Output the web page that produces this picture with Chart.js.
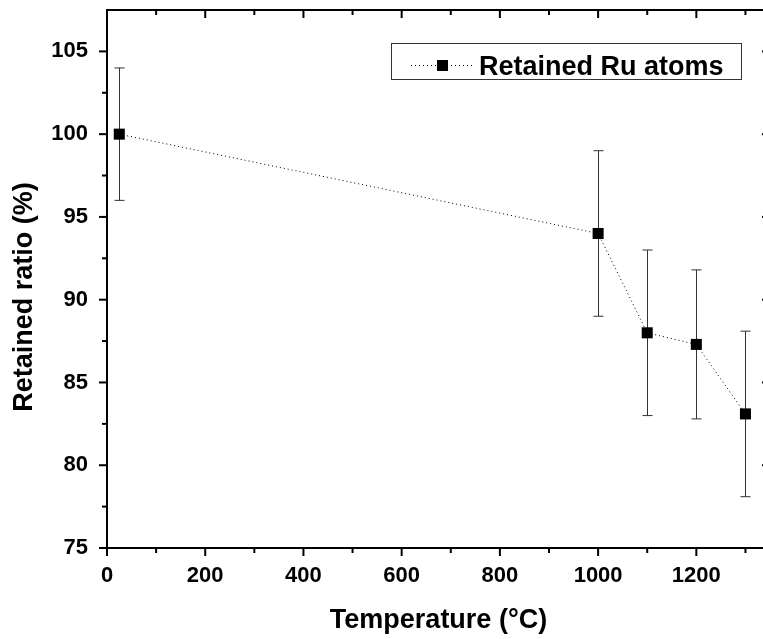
<!DOCTYPE html>
<html>
<head>
<meta charset="utf-8">
<script src="https://cdn.jsdelivr.net/npm/chart.js@4/dist/chart.umd.min.js"></script>
<style>
  html, body { margin: 0; padding: 0; background: #fff; overflow: hidden; }
  #wrap { width: 763px; height: 639px; overflow: hidden; }
</style>
</head>
<body>
<div id="wrap"><canvas id="chart" width="780" height="639"></canvas></div>
<script>
// data
const temperatures = [25, 1000, 1100, 1200, 1300];
const retained = [100, 94, 88, 87.3, 83.1];
const errors = [4, 5, 5, 4.5, 5];

const xTicks = [0, 200, 400, 600, 800, 1000, 1200];
const xMinor = [100, 300, 500, 700, 900, 1100, 1300];
const yTicks = [75, 80, 85, 90, 95, 100, 105];
const yMinor = [77.5, 82.5, 87.5, 92.5, 97.5, 102.5];

const seriesLabel = 'Retained Ru atoms';
const xTitle = 'Temperature (\u00B0C)';
const yTitle = 'Retained ratio (%)';

const FONT = "'Liberation Sans', Arial, sans-serif";
Chart.defaults.font.family = FONT;
Chart.defaults.color = '#000';

function line(ctx, x1, y1, x2, y2) {
  ctx.beginPath();
  ctx.moveTo(x1, y1);
  ctx.lineTo(x2, y2);
  ctx.stroke();
}

const frame = {
  id: 'frame',
  beforeDatasetsDraw(chart) {
    // error bars
    const { ctx, scales: { x, y } } = chart;
    ctx.save();
    ctx.strokeStyle = '#333';
    ctx.lineWidth = 1;
    temperatures.forEach((t, i) => {
      const px = Math.round(x.getPixelForValue(t)) + 0.5;
      const top = y.getPixelForValue(retained[i] + errors[i]);
      const bot = y.getPixelForValue(retained[i] - errors[i]);
      line(ctx, px, top, px, bot);
      line(ctx, px - 5, top, px + 5, top);
      line(ctx, px - 5, bot, px + 5, bot);
    });
    ctx.restore();
  },
  afterDraw(chart) {
    const { ctx, chartArea: a, scales: { x, y } } = chart;
    ctx.save();
    ctx.strokeStyle = '#000';
    ctx.lineWidth = 2;

    // frame on top and right
    line(ctx, a.left - 1, a.top, a.right, a.top);
    line(ctx, a.right, a.top, a.right, a.bottom);

    const tickX = (v, len) => {
      const px = x.getPixelForValue(v);
      line(ctx, px, a.bottom, px, a.bottom + len);
      line(ctx, px, a.top, px, a.top + len);
    };
    const tickY = (v, len) => {
      const py = y.getPixelForValue(v);
      line(ctx, a.left - len, py, a.left, py);
      line(ctx, a.right - len, py, a.right, py);
    };
    xTicks.forEach(v => tickX(v, 8));
    xMinor.forEach(v => tickX(v, 5));
    yTicks.forEach(v => tickY(v, 8));
    yMinor.forEach(v => tickY(v, 5));

    // legend
    ctx.lineWidth = 1;
    ctx.strokeStyle = '#333';
    ctx.strokeRect(391.5, 43.5, 350, 36);
    ctx.strokeStyle = '#000';
    ctx.setLineDash([1, 3]);
    line(ctx, 411, 65.5, 474, 65.5);
    ctx.setLineDash([]);
    ctx.fillStyle = '#000';
    ctx.fillRect(437, 60, 11, 11);
    ctx.font = 'bold 27px ' + FONT;
    ctx.textAlign = 'left';
    ctx.textBaseline = 'alphabetic';
    ctx.fillText(seriesLabel, 479, 75);

    // axis titles
    ctx.textAlign = 'center';
    ctx.fillText(xTitle, (a.left + a.right) / 2, 628);
    ctx.translate(32, 297);
    ctx.rotate(-Math.PI / 2);
    ctx.fillText(yTitle, 0, 0);
    ctx.restore();
  }
};

new Chart(document.getElementById('chart'), {
  type: 'line',
  data: {
    datasets: [{
      label: seriesLabel,
      data: temperatures.map((t, i) => ({ x: t, y: retained[i] })),
      borderColor: '#000',
      borderWidth: 1,
      borderDash: [1, 3],
      backgroundColor: '#000',
      pointStyle: 'rect',
      pointRadius: 7.8,
      pointBorderWidth: 0,
      pointBackgroundColor: '#000',
      tension: 0
    }]
  },
  options: {
    responsive: false,
    animation: false,
    devicePixelRatio: 1,
    layout: { padding: { top: 10, right: 10, left: 0, bottom: 0 } },
    plugins: { legend: { display: false }, tooltip: { enabled: false } },
    scales: {
      x: {
        type: 'linear',
        min: 0,
        max: 1350,
        afterBuildTicks: s => { s.ticks = xTicks.map(v => ({ value: v })); },
        afterFit: s => { s.height = 91; s.paddingLeft = 0; s.paddingRight = 0; },
        grid: { display: false, drawTicks: false },
        border: { display: true, color: '#000', width: 2 },
        ticks: { padding: 15, maxRotation: 0, callback: v => String(v), font: { size: 22, weight: 'bold' }, color: '#000' }
      },
      y: {
        type: 'linear',
        min: 75,
        max: 107.5,
        afterBuildTicks: s => { s.ticks = yTicks.map(v => ({ value: v })); },
        afterFit: s => { s.width = 107; s.paddingTop = 0; s.paddingBottom = 0; },
        grid: { display: false, drawTicks: false },
        border: { display: true, color: '#000', width: 2 },
        ticks: { padding: 19, callback: v => String(v), font: { size: 22, weight: 'bold' }, color: '#000' }
      }
    }
  },
  plugins: [frame]
});
</script>
</body>
</html>
